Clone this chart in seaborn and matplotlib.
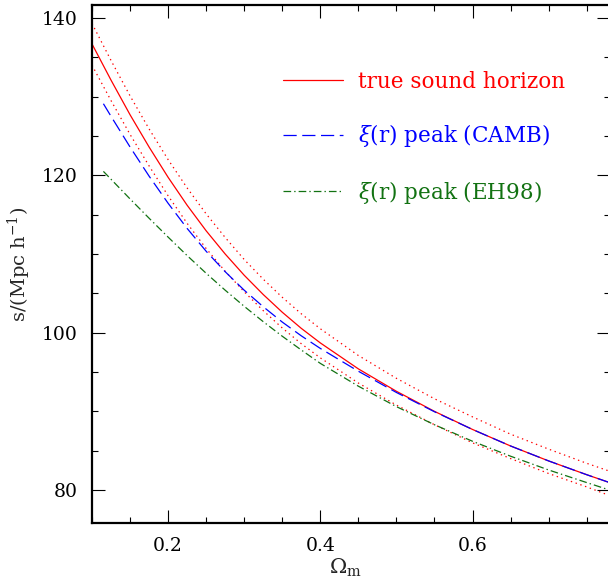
import matplotlib
matplotlib.use("Agg")
import numpy as np
import pandas as pd
import seaborn as sns
import matplotlib.pyplot as plt
from matplotlib.ticker import MultipleLocator, FormatStrFormatter

# ---- data ----
omega = [0.100, 0.125, 0.150, 0.175, 0.200, 0.225, 0.250, 0.275, 0.300, 0.325,
         0.350, 0.375, 0.400, 0.450, 0.500, 0.550, 0.600, 0.650, 0.700, 0.750, 0.780]
true_s = [136.7, 132.1, 127.7, 123.6, 119.75, 116.2, 112.95, 110.0, 107.3, 104.85,
          102.6, 100.55, 98.7, 95.4, 92.55, 90.0, 87.7, 85.6, 83.7, 81.95, 80.95]
true_hi = [139.3, 134.6, 130.1, 125.9, 122.0, 118.4, 115.1, 112.1, 109.3, 106.8,
           104.5, 102.4, 100.5, 97.1, 94.2, 91.6, 89.3, 87.1, 85.2, 83.4, 82.4]
true_lo = [134.0, 129.5, 125.2, 121.2, 117.4, 113.9, 110.7, 107.8, 105.2, 102.8,
           100.6, 98.6, 96.8, 93.6, 90.8, 88.3, 86.0, 84.0, 82.1, 80.4, 79.3]

omega_peak = [0.115, 0.125, 0.150, 0.175, 0.200, 0.225, 0.250, 0.275, 0.300, 0.325,
              0.350, 0.375, 0.400, 0.450, 0.500, 0.550, 0.600, 0.650, 0.700, 0.750, 0.780]
camb_peak = [129.1, 127.5, 123.6, 119.9, 116.45, 113.25, 110.35, 107.75, 105.4, 103.3,
             101.35, 99.6, 98.0, 95.1, 92.4, 89.95, 87.7, 85.6, 83.7, 81.95, 80.95]
eh98_peak = [120.5, 119.5, 117.0, 114.55, 112.15, 109.8, 107.55, 105.4, 103.35, 101.4,
             99.55, 97.8, 96.1, 93.2, 90.6, 88.3, 86.2, 84.3, 82.55, 80.95, 80.0]

labels = ["true sound horizon", r"$\xi$(r) peak (CAMB)", r"$\xi$(r) peak (EH98)"]

RED = "#ff0000"
BLUE = "#0000ff"
GREEN = "#127212"

sns.set_style("ticks")
plt.rcParams["font.family"] = ["DejaVu Serif"]
plt.rcParams["mathtext.fontset"] = "dejavuserif"
plt.rcParams["lines.scale_dashes"] = False

fig = plt.figure(figsize=(6.08, 5.79), dpi=100)
ax = fig.add_axes([92 / 608, 56 / 579, 518 / 608, 518 / 579])

df_true = pd.DataFrame({"omega": omega, "s": true_s, "hi": true_hi, "lo": true_lo})
df_peak = pd.DataFrame({"omega": omega_peak, "camb": camb_peak, "eh98": eh98_peak})

lw = 0.9
sns.lineplot(data=df_true, x="omega", y="hi", ax=ax, color=RED, lw=lw,
             linestyle=(0, (1.0, 2.6)))
sns.lineplot(data=df_true, x="omega", y="lo", ax=ax, color=RED, lw=lw,
             linestyle=(0, (1.0, 2.6)))
sns.lineplot(data=df_true, x="omega", y="s", ax=ax, color=RED, lw=lw)
sns.lineplot(data=df_peak, x="omega", y="camb", ax=ax, color=BLUE, lw=lw,
             linestyle=(0, (9.5, 4.0)))
sns.lineplot(data=df_peak, x="omega", y="eh98", ax=ax, color=GREEN, lw=lw,
             linestyle=(0, (5.5, 2.2, 1.0, 2.2)))

lines = ax.get_lines()
handles = [lines[2], lines[3], lines[4]]
leg = ax.legend(handles, labels, loc="upper left",
                bbox_to_anchor=((283 - 92) / 518, (523 - 71) / 518),
                frameon=False, fontsize=15.5, handlelength=2.8,
                handletextpad=0.7, labelspacing=1.36, borderpad=0,
                borderaxespad=0)
for txt, c in zip(leg.get_texts(), [RED, BLUE, GREEN]):
    txt.set_color(c)

ax.set_xlim(0.1, 0.1 + 519 / 762.5)
ax.set_ylim(75.81, 141.65)
ax.xaxis.set_major_locator(MultipleLocator(0.2))
ax.xaxis.set_minor_locator(MultipleLocator(0.05))
ax.yaxis.set_major_locator(MultipleLocator(20))
ax.yaxis.set_minor_locator(MultipleLocator(5))
ax.xaxis.set_major_formatter(FormatStrFormatter("%.1f"))
ax.yaxis.set_major_formatter(FormatStrFormatter("%d"))

ax.tick_params(which="both", direction="in", top=True, right=True,
               colors="black", labelsize=13.5)
ax.tick_params(which="major", length=9.2, width=0.8, pad=10)
ax.tick_params(which="minor", length=4.6, width=0.8)
for side, sp in ax.spines.items():
    sp.set_visible(True)
    sp.set_color("black")
    sp.set_linewidth(1.6)

ax.set_xlabel(r"$\Omega_{\rm m}$", fontsize=15)
ax.set_ylabel(r"s/(Mpc h$^{-1}$)", fontsize=14)
ax.xaxis.set_label_coords(0.49, (523 - 557) / 518)
ax.yaxis.set_label_coords((33 - 92) / 518, 0.5)

fig.savefig("out.png", dpi=100)
